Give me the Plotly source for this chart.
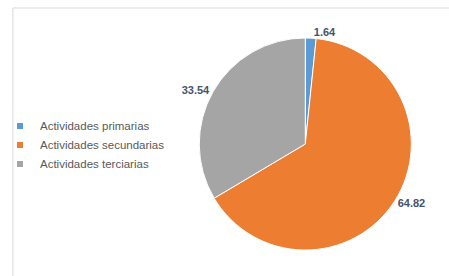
import plotly.graph_objects as go

categories = ["Actividades primarias", "Actividades secundarias", "Actividades terciarias"]
values = [1.64, 64.82, 33.54]
colors = ["#5B9BD5", "#ED7D31", "#A5A5A5"]

W, H = 449, 276

fig = go.Figure()
fig.add_trace(go.Pie(
    labels=categories,
    values=values,
    text=[f"{v:.2f}" for v in values],
    textinfo="text",
    textposition="outside",
    outsidetextfont=dict(family="Liberation Sans", size=11, color="#44546A"),
    texttemplate="<b>%{text}</b>",
    marker=dict(colors=colors, line=dict(color="white", width=1)),
    sort=False,
    direction="clockwise",
    rotation=0,
    domain=dict(x=[197 / W, 411 / W], y=[25 / H, 239 / H]),
    showlegend=False,
    hoverinfo="label+value",
))

# legend entries (small square keys like the original)
for name, col in zip(categories, colors):
    fig.add_trace(go.Scatter(
        x=[None], y=[None], mode="markers", name=name,
        marker=dict(symbol="square", size=6, color=col),
        showlegend=True,
    ))

fig.update_layout(
    width=W, height=H,
    margin=dict(l=0, r=0, t=0, b=0),
    paper_bgcolor="white",
    plot_bgcolor="white",
    font=dict(family="Liberation Sans", color="#595959"),
    xaxis=dict(visible=False),
    yaxis=dict(visible=False),
    legend=dict(
        x=-0.01, y=0.475, xanchor="left", yanchor="middle",
        font=dict(family="Liberation Sans", size=11.5, color="#595959"),
        itemwidth=30,
        tracegroupgap=0,
        bgcolor="rgba(0,0,0,0)",
    ),
    shapes=[dict(
        type="rect", xref="paper", yref="paper",
        x0=9 / W, x1=1.05, y0=-0.05, y1=(H - 8) / H,
        line=dict(color="#D9D9D9", width=1), fillcolor="rgba(0,0,0,0)",
        layer="below",
    )],
)

fig.write_html(
    "out.html",
    config={"displayModeBar": False},
    post_script="document.body.style.margin='0';document.body.style.overflow='hidden';",
)
